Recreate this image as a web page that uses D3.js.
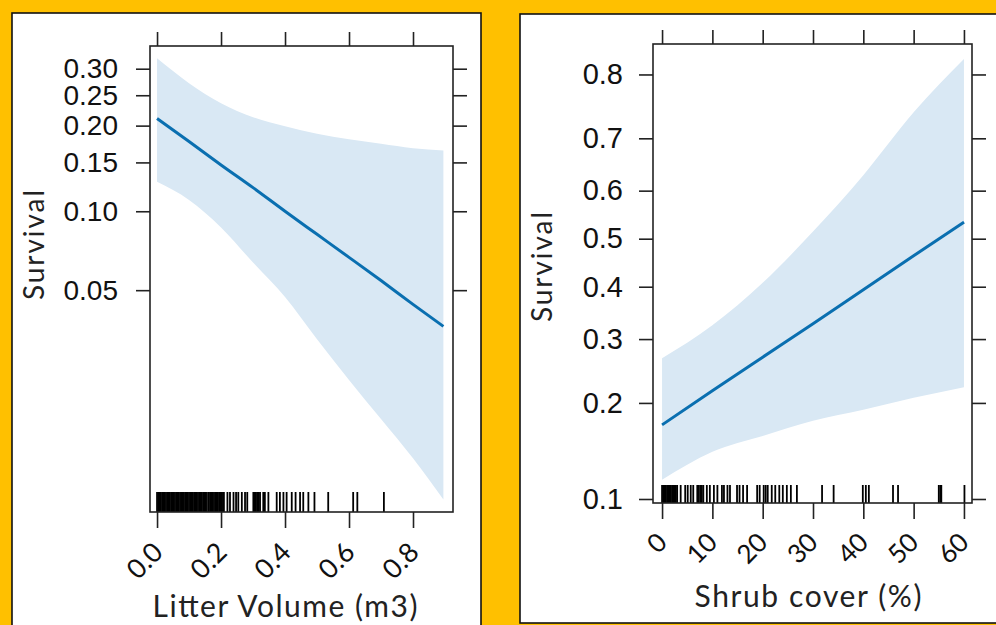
<!DOCTYPE html>
<html>
<head>
<meta charset="utf-8">
<script src="https://cdn.jsdelivr.net/npm/d3@7"></script>
<style>
  body { margin: 0; background: #ffc000; }
  svg { display: block; }
</style>
</head>
<body>
<div id="graph"></div>
<script>
// ---- data ----
// left panel: litter volume
const litterX     = [0, 0.1, 0.2, 0.3, 0.4, 0.5, 0.6, 0.7, 0.8, 0.895];
const litterFit   = [0.211, 0.177, 0.147, 0.122, 0.100, 0.082, 0.067, 0.0545, 0.044, 0.036];
const litterLower = [0.128, 0.110, 0.087, 0.064, 0.047, 0.032, 0.022, 0.0153, 0.0106, 0.0072];
const litterUpper = [0.321, 0.272, 0.236, 0.213, 0.199, 0.188, 0.180, 0.174, 0.168, 0.165];
const litterTicks = [0, 0.2, 0.4, 0.6, 0.8];
const litterYTicks = [0.05, 0.10, 0.15, 0.20, 0.25, 0.30];
const litterRug = [
  0.000, 0.004, 0.008, 0.012, 0.016, 0.020, 0.024, 0.028, 0.032, 0.036, 0.040, 0.044, 0.048,
  0.052, 0.056, 0.060, 0.064, 0.068, 0.072, 0.076, 0.080, 0.084, 0.088, 0.092, 0.096, 0.100,
  0.104, 0.108, 0.112, 0.116, 0.120, 0.124, 0.128, 0.132, 0.136, 0.140, 0.144, 0.148, 0.152, 0.156,
  0.162, 0.166, 0.170, 0.174, 0.178, 0.182, 0.186, 0.190, 0.194, 0.198, 0.202, 0.206, 0.209,
  0.220, 0.228, 0.239, 0.247, 0.254, 0.265, 0.275, 0.282, 0.301, 0.305, 0.309, 0.313, 0.318, 0.322,
  0.332, 0.337, 0.348, 0.374, 0.384, 0.395, 0.405, 0.421, 0.433, 0.447, 0.457, 0.473, 0.492,
  0.535, 0.613, 0.626, 0.709
];

// right panel: shrub cover
const shrubX     = [0, 10, 20, 30, 40, 50, 60];
const shrubFit   = [0.172, 0.217, 0.269, 0.328, 0.394, 0.464, 0.535];
const shrubLower = [0.1155, 0.142, 0.159, 0.177, 0.191, 0.207, 0.222];
const shrubUpper = [0.267, 0.325, 0.408, 0.515, 0.631, 0.744, 0.820];
const shrubTicks = [0, 10, 20, 30, 40, 50, 60];
const shrubYTicks = [0.1, 0.2, 0.3, 0.4, 0.5, 0.6, 0.7, 0.8];
const shrubRug = [
  0, 0.25, 0.5, 0.75, 1, 1.25, 1.5, 1.75, 2, 2.25, 2.5, 2.75, 3,
  3.7, 4.6, 5.1, 5.7, 6.2, 7.0, 7.3, 7.6, 7.9, 8.2, 8.9, 9.5, 10.3, 11.0, 11.9, 12.3,
  13.0, 13.5, 14.9, 15.4, 16.1, 16.9, 18.9, 19.4, 20.2, 20.6, 21.0, 21.8, 22.5, 23.3,
  24.0, 24.8, 25.6, 26.8, 31.8, 34.1, 39.9, 40.5, 41.1, 45.9, 46.9, 55.0, 55.3, 55.5, 60.1
];

const logit = p => Math.log(p / (1 - p));

const svg = d3.select("#graph").append("svg")
    .attr("width", 996).attr("height", 625);

svg.append("rect").attr("width", 996).attr("height", 625).attr("fill", "#ffc000");

// white panels
svg.append("rect").attr("x", 12).attr("y", 13).attr("width", 469).attr("height", 640)
    .attr("fill", "white").attr("stroke", "#111").attr("stroke-width", 1.6);
svg.append("rect").attr("x", 520).attr("y", 14).attr("width", 520).attr("height", 609)
    .attr("fill", "white").attr("stroke", "#111").attr("stroke-width", 1.6);

function drawPanel(cfg) {
    const { box, xDomain, yDomain, xs, fit, lower, upper, xTicks, yTicks, rug, rugLen, yFmt } = cfg;

    const x = d3.scaleLinear().domain(xDomain).range([box.left, box.right]);
    const y = d3.scaleLinear().domain(yDomain.map(logit)).range([box.bottom, box.top]);

    const g = svg.append("g");

    // confidence band
    const band = xs.map((v, i) => ({ x: v, lo: lower[i], hi: upper[i] }));
    g.append("path")
        .datum(band)
        .attr("fill", "#d9e8f4")
        .attr("d", d3.area()
            .curve(d3.curveMonotoneX)
            .x(d => x(d.x))
            .y0(d => y(logit(d.lo)))
            .y1(d => y(logit(d.hi))));

    // fitted line
    g.append("path")
        .datum(xs.map((v, i) => ({ x: v, p: fit[i] })))
        .attr("fill", "none")
        .attr("stroke", "#0a6fb0")
        .attr("stroke-width", 3)
        .attr("d", d3.line().curve(d3.curveMonotoneX).x(d => x(d.x)).y(d => y(logit(d.p))));

    // rug
    g.selectAll(".rug").data(rug).join("line")
        .attr("class", "rug")
        .attr("x1", d => x(d)).attr("x2", d => x(d))
        .attr("y1", box.bottom).attr("y2", box.bottom - rugLen)
        .attr("stroke", "#000").attr("stroke-width", 1.8);

    // frame
    g.append("rect")
        .attr("x", box.left).attr("y", box.top)
        .attr("width", box.right - box.left).attr("height", box.bottom - box.top)
        .attr("fill", "none").attr("stroke", "#222").attr("stroke-width", 1.6);

    const yTickVals = yTicks.map(logit);

    const gl = g.append("g").attr("transform", `translate(${box.left},0)`)
        .call(d3.axisLeft(y).tickValues(yTickVals).tickSize(14).tickPadding(cfg.yPad)
            .tickFormat((d, i) => yFmt(yTicks[i])));
    const gr = g.append("g").attr("transform", `translate(${box.right},0)`)
        .call(d3.axisRight(y).tickValues(yTickVals).tickSize(14).tickFormat(""));
    const gt = g.append("g").attr("transform", `translate(0,${box.top})`)
        .call(d3.axisTop(x).tickValues(xTicks).tickSize(14).tickFormat(""));
    const gb = g.append("g").attr("transform", `translate(0,${box.bottom})`)
        .call(d3.axisBottom(x).tickValues(xTicks).tickSize(16).tickFormat(cfg.xFmt));

    [gl, gr, gt, gb].forEach(a => {
        a.select(".domain").remove();
        a.selectAll(".tick line").attr("stroke", "#222").attr("stroke-width", 1.6);
    });

    gl.selectAll("text")
        .attr("font-family", "'Liberation Sans', Arial, sans-serif")
        .attr("font-size", cfg.yFont).attr("fill", "#111");

    gb.selectAll("text")
        .attr("font-family", "Lato, 'Noto Sans', sans-serif")
        .attr("font-size", cfg.xFont).attr("fill", "#111")
        .attr("text-anchor", "end")
        .attr("dy", null)
        .attr("x", cfg.xLab[0]).attr("y", cfg.xLab[1])
        .attr("transform", `rotate(-45 ${cfg.xLab[0]} ${cfg.xLab[1]})`);

    // axis titles
    g.append("text")
        .attr("x", cfg.xTitle[0]).attr("y", cfg.xTitle[1])
        .attr("text-anchor", "middle")
        .attr("font-family", "Lato, 'Noto Sans', sans-serif")
        .attr("font-size", 30).attr("fill", "#222")
        .attr("textLength", cfg.xTitle[2])
        .text(cfg.xLabel);

    g.append("text")
        .attr("transform", `translate(${cfg.yTitle[0]},${cfg.yTitle[1]}) rotate(-90)`)
        .attr("text-anchor", "middle")
        .attr("font-family", "Lato, 'Noto Sans', sans-serif")
        .attr("font-size", 28).attr("fill", "#222")
        .attr("textLength", cfg.yTitle[2])
        .text("Survival");
}

drawPanel({
    box: { left: 150, right: 453, top: 46, bottom: 512 },
    xDomain: [-0.022, 0.925],
    yDomain: [0.0064, 0.347],
    xs: litterX, fit: litterFit, lower: litterLower, upper: litterUpper,
    xTicks: litterTicks, yTicks: litterYTicks, rug: litterRug, rugLen: 20,
    yFmt: d3.format(".2f"), yPad: 18, yFont: 28,
    xFmt: d3.format(".1f"), xFont: 27, xLab: [7, 42],
    xLabel: "Litter Volume (m3)", xTitle: [285, 617, 265],
    yTitle: [44, 245, 110]
});

drawPanel({
    box: { left: 653, right: 972, top: 44, bottom: 503 },
    xDomain: [-1.8, 61.6],
    yDomain: [0.097, 0.838],
    xs: shrubX, fit: shrubFit, lower: shrubLower, upper: shrubUpper,
    xTicks: shrubTicks, yTicks: shrubYTicks, rug: shrubRug, rugLen: 18,
    yFmt: d3.format(".1f"), yPad: 16, yFont: 29,
    xFmt: d3.format("d"), xFont: 26, xLab: [6, 41],
    xLabel: "Shrub cover (%)", xTitle: [808, 607, 227],
    yTitle: [552, 267, 110]
});
</script>
</body>
</html>
